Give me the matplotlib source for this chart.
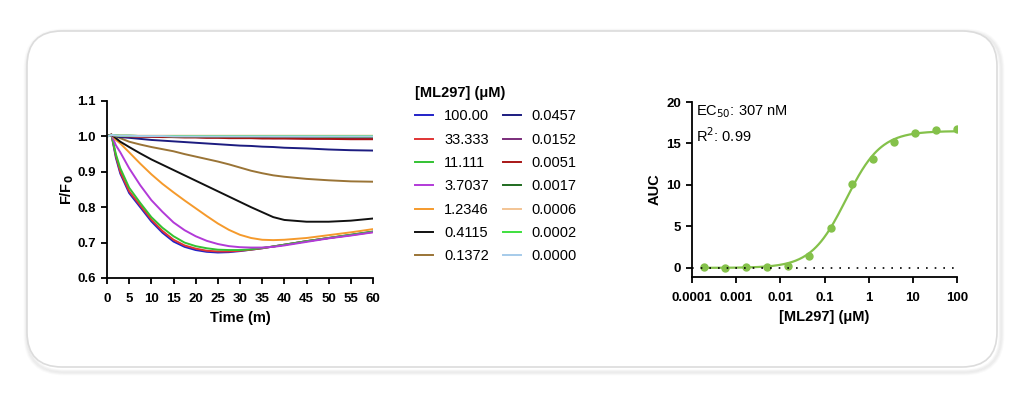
import numpy as np
import matplotlib
matplotlib.use("Agg")
import matplotlib.pyplot as plt
from matplotlib.patches import FancyBboxPatch

plt.rcParams['font.family'] = ['Liberation Sans', 'DejaVu Sans']

# time course (minutes) shared by every trace
time_min = [0, 1, 2, 3, 5, 7.5, 10, 12.5, 15, 17.5, 20, 22.5, 25, 27.5, 30,
            32.5, 35, 37.5, 40, 45, 50, 55, 60]

conc_labels = ['100.00', '33.333', '11.111', '3.7037', '1.2346', '0.4115', '0.1372',
               '0.0457', '0.0152', '0.0051', '0.0017', '0.0006', '0.0002', '0.0000']
trace_colors = ['#2222c8', '#e03434', '#33c233', '#b23ad8', '#f59a2c', '#111111', '#9a7436',
                '#1c1c80', '#7a2c7a', '#a81616', '#1f6b1f', '#f3c494', '#3ee03e', '#a6cbea']

# F/F0
ff0_100 = [1.0, 1.005, 0.94, 0.895, 0.84, 0.80, 0.76, 0.728, 0.703, 0.688, 0.679, 0.674, 0.672,
           0.673, 0.676, 0.680, 0.684, 0.689, 0.694, 0.704, 0.713, 0.722, 0.731]
ff0_33 = [1.0, 1.005, 0.945, 0.90, 0.845, 0.805, 0.765, 0.733, 0.708, 0.692, 0.683, 0.677, 0.675,
          0.675, 0.677, 0.680, 0.684, 0.689, 0.694, 0.704, 0.713, 0.721, 0.730]
ff0_11 = [1.0, 1.005, 0.95, 0.91, 0.855, 0.812, 0.772, 0.742, 0.718, 0.700, 0.690, 0.684, 0.680,
          0.679, 0.679, 0.681, 0.685, 0.689, 0.694, 0.704, 0.713, 0.722, 0.731]
ff0_3_7 = [1.0, 1.005, 0.975, 0.955, 0.91, 0.862, 0.82, 0.787, 0.757, 0.735, 0.718, 0.705, 0.696,
           0.690, 0.687, 0.686, 0.686, 0.688, 0.692, 0.702, 0.712, 0.720, 0.729]
ff0_1_2 = [1.0, 1.005, 0.99, 0.98, 0.955, 0.923, 0.893, 0.866, 0.842, 0.819, 0.797, 0.775, 0.754,
           0.736, 0.722, 0.713, 0.708, 0.707, 0.708, 0.713, 0.721, 0.729, 0.738]
ff0_0_41 = [1.0, 1.005, 0.995, 0.985, 0.97, 0.952, 0.935, 0.92, 0.905, 0.89, 0.875, 0.86, 0.845,
            0.83, 0.815, 0.80, 0.786, 0.772, 0.764, 0.759, 0.759, 0.762, 0.768]
ff0_0_14 = [1.0, 1.005, 1.0, 0.995, 0.985, 0.977, 0.97, 0.964, 0.958, 0.950, 0.943, 0.936, 0.929,
            0.921, 0.912, 0.903, 0.896, 0.890, 0.886, 0.880, 0.876, 0.873, 0.872]
ff0_0_046 = [1.0, 1.004, 1.0, 0.998, 0.996, 0.993, 0.99, 0.988, 0.986, 0.984, 0.982, 0.980, 0.978,
             0.976, 0.974, 0.973, 0.971, 0.970, 0.968, 0.966, 0.963, 0.961, 0.960]
ff0_0_015 = [1.0, 1.004, 1.002, 1.001, 1.0, 1.0, 0.999, 0.999, 0.998, 0.998, 0.998, 0.997, 0.997,
             0.997, 0.996, 0.996, 0.996, 0.995, 0.995, 0.995, 0.994, 0.994, 0.994]
ff0_0_005 = [1.0, 1.004, 1.002, 1.001, 1.0, 0.999, 0.999, 0.998, 0.998, 0.997, 0.997, 0.996, 0.996,
             0.995, 0.995, 0.995, 0.994, 0.994, 0.994, 0.993, 0.993, 0.992, 0.992]
ff0_0_0017 = [1.0, 1.004, 1.003, 1.002, 1.002, 1.001, 1.001, 1.001, 1.0, 1.0, 1.0, 1.0, 1.0,
              1.0, 1.0, 1.0, 1.0, 1.0, 1.0, 1.0, 0.999, 0.999, 0.999]
ff0_0_0006 = [1.0, 1.004, 1.003, 1.003, 1.002, 1.002, 1.002, 1.002, 1.002, 1.002, 1.002, 1.002, 1.002,
              1.002, 1.002, 1.002, 1.002, 1.002, 1.002, 1.002, 1.002, 1.002, 1.002]
ff0_0_0002 = [1.0, 1.004, 1.003, 1.002, 1.002, 1.001, 1.001, 1.001, 1.001, 1.001, 1.001, 1.001, 1.001,
              1.001, 1.001, 1.001, 1.001, 1.001, 1.001, 1.001, 1.001, 1.001, 1.001]
ff0_vehicle = [1.0, 1.004, 1.003, 1.002, 1.002, 1.001, 1.001, 1.001, 1.0, 1.0, 1.0, 1.0, 1.0,
               1.0, 1.0, 1.0, 1.0, 1.0, 1.0, 1.0, 1.0, 1.0, 1.0]

traces = [ff0_100, ff0_33, ff0_11, ff0_3_7, ff0_1_2, ff0_0_41, ff0_0_14,
          ff0_0_046, ff0_0_015, ff0_0_005, ff0_0_0017, ff0_0_0006, ff0_0_0002, ff0_vehicle]

# dose response (AUC)
dose_um = [100, 33.333, 11.111, 3.7037, 1.2346, 0.4115, 0.1372, 0.0457, 0.0152,
           0.0051, 0.0017, 0.000565, 0.000188]
auc = [16.7, 16.6, 16.25, 15.2, 13.15, 10.1, 4.8, 1.4, 0.2, 0.05, 0.05, 0.0, 0.05]

# fitted 4PL parameters
ec50 = 0.307
hill = 1.1
top = 16.5
bottom = 0.0

fig = plt.figure(figsize=(10.24, 3.99), dpi=100)

# card background
bg = fig.add_axes([0, 0, 1, 1], zorder=-5)
bg.set_xlim(0, 1024)
bg.set_ylim(399, 0)
bg.axis('off')
for i, a in enumerate([0.04, 0.05, 0.05, 0.06]):
    off = 4 - i
    bg.add_patch(FancyBboxPatch((27 - off + 2, 31 - off + 3), 970 + 2 * off, 336 + 2 * off,
                                boxstyle="round,pad=0,rounding_size=%d" % (35 + off),
                                fc='none', ec='#808080', lw=2, alpha=a))
bg.add_patch(FancyBboxPatch((27, 31), 970, 336, boxstyle="round,pad=0,rounding_size=35",
                            fc='white', ec='#dcdcdc', lw=1.2))

tick_size = 9.5
label_size = 10.5

# left panel: kinetic traces
ax1 = fig.add_axes([107 / 1024, 1 - 278 / 399, 266 / 1024, 177 / 399])
for y, c, lab in zip(traces, trace_colors, conc_labels):
    ax1.plot(time_min, y, color=c, lw=1.4, label=lab)
ax1.set_xlim(0, 60)
ax1.set_ylim(0.6, 1.1)
ax1.set_xticks(range(0, 61, 5))
ax1.set_yticks([0.6, 0.7, 0.8, 0.9, 1.0, 1.1])
ax1.set_yticklabels(['0.6', '0.7', '0.8', '0.9', '1.0', '1.1'])
ax1.set_xlabel('Time (m)', fontsize=label_size, fontweight='bold', labelpad=4)
ax1.set_ylabel('F/F$_\\mathbf{0}$', fontsize=label_size, fontweight='bold', labelpad=1)
for s in ['top', 'right']:
    ax1.spines[s].set_visible(False)
for s in ['left', 'bottom']:
    ax1.spines[s].set_linewidth(1.3)
ax1.tick_params(width=1.3, length=4)
ax1.tick_params(axis='x', pad=7)
ax1.tick_params(axis='y', pad=4)
for lbl in ax1.get_xticklabels() + ax1.get_yticklabels():
    lbl.set_fontsize(tick_size)
    lbl.set_fontweight('bold')

leg = fig.legend(*ax1.get_legend_handles_labels(), loc='upper left',
                 bbox_to_anchor=(402 / 1024, 1 - 73 / 399), ncol=2, frameon=False,
                 fontsize=10.5, handlelength=1.25, handletextpad=0.75, columnspacing=0.9,
                 labelspacing=0.64, title='[ML297] (μM)',
                 title_fontproperties={'weight': 'bold', 'size': 10.5}, alignment='left')

# right panel: dose response
ax2 = fig.add_axes([692 / 1024, 1 - 277 / 399, 265 / 1024, 175 / 399])
xfit = np.logspace(np.log10(0.00018), 2, 300)
yfit = bottom + (top - bottom) / (1 + (ec50 / xfit) ** hill)
green = '#84c14a'
ax2.plot(xfit, yfit, color=green, lw=1.6)
ax2.plot(dose_um, auc, 'o', color=green, ms=5)
ax2.plot([0.0001, 100], [0, 0], color='black', lw=1.2, ls=(0, (1, 4.2)))
ax2.set_xscale('log')
ax2.set_xlim(0.0001, 100)
ax2.set_ylim(-1.1, 20)
ax2.set_xticks([0.0001, 0.001, 0.01, 0.1, 1, 10, 100])
ax2.set_xticklabels(['0.0001', '0.001', '0.01', '0.1', '1', '10', '100'])
ax2.minorticks_off()
ax2.set_yticks([0, 5, 10, 15, 20])
ax2.set_xlabel('[ML297] (μM)', fontsize=label_size, fontweight='bold', labelpad=4)
ax2.set_ylabel('AUC', fontsize=label_size, fontweight='bold', labelpad=3)
for s in ['top', 'right']:
    ax2.spines[s].set_visible(False)
for s in ['left', 'bottom']:
    ax2.spines[s].set_linewidth(1.3)
ax2.tick_params(width=1.3, length=4)
ax2.tick_params(axis='x', pad=7)
ax2.tick_params(axis='y', pad=4)
for lbl in ax2.get_xticklabels() + ax2.get_yticklabels():
    lbl.set_fontsize(tick_size)
    lbl.set_fontweight('bold')
ax2.text(0.015, 0.99, 'EC$_{50}$: 307 nM', transform=ax2.transAxes, fontsize=10.5,
         va='top', ha='left')
ax2.text(0.015, 0.86, 'R$^2$: 0.99', transform=ax2.transAxes, fontsize=10.5,
         va='top', ha='left')

fig.savefig('out.png', dpi=100)
